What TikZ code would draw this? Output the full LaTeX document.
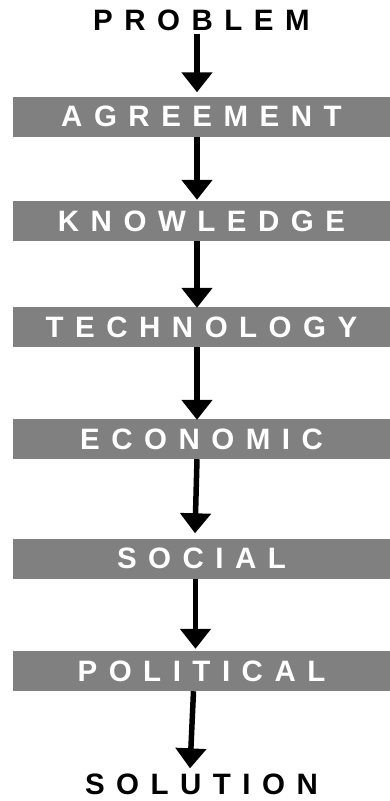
\documentclass[tikz,border=0pt]{standalone}
\usepackage{fontspec}
\setmainfont{Liberation Sans}[LetterSpace=39]
\usepackage{tikz}
\usetikzlibrary{arrows.meta}

\definecolor{bargray}{RGB}{128,128,128}
\newcommand{\spaced}[1]{\bfseries\fontsize{29.5}{32}\selectfont #1}

\tikzset{
  bar/.style={fill=bargray,minimum width=377,minimum height=40,inner sep=0,text=white},
  lbl/.style={inner sep=0,text=black},
  arr/.style={line width=5.5,-{Triangle[width=30,length=20]}}
}

\begin{document}
\begin{tikzpicture}[x=1pt,y=1pt,yscale=-1,xscale=1]
\useasboundingbox (0,0) rectangle (390,801);

% Text Node
\node[lbl] (prob) at (201.5,20) {\spaced{PROBLEM}};
% Shape: Bars
\node[bar] (agree) at (201.5,116.5) {\spaced{AGREEMENT}};
\node[bar] (know) at (201.5,221) {\spaced{KNOWLEDGE}};
\node[bar] (tech) at (201.5,327) {\spaced{TECHNOLOGY}};
\node[bar] (econ) at (201.5,439) {\spaced{ECONOMIC}};
\node[bar] (soc) at (201.5,558.5) {\spaced{SOCIAL}};
\node[bar] (pol) at (201.5,671) {\spaced{POLITICAL}};
% Text Node
\node[lbl] (sol) at (201.5,784) {\spaced{SOLUTION}};

%Straight Lines
\draw[arr] ([xshift=-4.5,yshift=3]prob.south) -- ([xshift=-4.5,yshift=-4]agree.north);
\draw[arr] ([xshift=-4.5]agree.south) -- ([xshift=-4.5,yshift=-1]know.north);
\draw[arr] ([xshift=-4.5]know.south) -- ([xshift=-4.5,yshift=1]tech.north);
\draw[arr] ([xshift=-4.5]tech.south) -- ([xshift=-4.5,yshift=1]econ.north);
\draw[arr] ([xshift=-4.5]econ.south) -- ([xshift=-6.5,yshift=-5]soc.north);
\draw[arr] ([xshift=-6]soc.south) -- ([xshift=-6,yshift=-2]pol.north);
\draw[arr] ([xshift=-8]pol.south) -- ([xshift=-11.5,yshift=-5]sol.north);

\end{tikzpicture}
\end{document}
